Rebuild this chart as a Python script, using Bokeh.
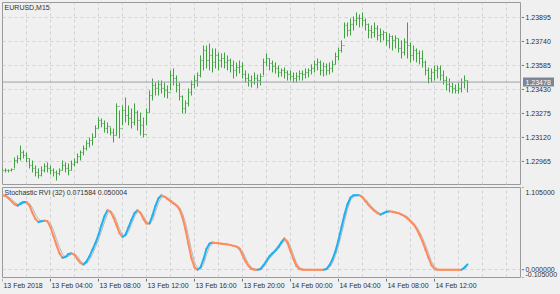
from bokeh.plotting import figure
from bokeh.layouts import column, row
from bokeh.models import FixedTicker, Span, Label, Range1d, ColumnDataSource
from bokeh.core.properties import value
from bokeh.embed import file_html
from bokeh.resources import INLINE

symbol_title = "EURUSD,M15"
ind_title = "Stochastic RVI (32) 0.071584 0.050004"
current_price = 1.23478
first_open = 1.22913

high = [1.22920,1.22920,1.22913,1.22920,1.22991,1.23004,1.23068,1.23036,1.23023,1.22984,
1.22971,1.22939,1.22920,1.22933,1.22952,1.22959,1.22939,1.22920,1.22907,1.22920,
1.22971,1.22959,1.22952,1.22971,1.22984,1.23017,1.23036,1.23068,1.23101,1.23120,
1.23146,1.23198,1.23249,1.23243,1.23230,1.23217,1.23185,1.23178,1.23340,1.23294,
1.23327,1.23378,1.23327,1.23307,1.23340,1.23294,1.23281,1.23249,1.23307,1.23424,
1.23501,1.23475,1.23488,1.23488,1.23475,1.23456,1.23553,1.23566,1.23521,1.23475,
1.23391,1.23359,1.23437,1.23488,1.23521,1.23540,1.23650,1.23714,1.23714,1.23727,
1.23695,1.23695,1.23669,1.23663,1.23669,1.23650,1.23630,1.23617,1.23605,1.23617,
1.23605,1.23553,1.23533,1.23521,1.23540,1.23527,1.23533,1.23630,1.23663,1.23630,
1.23617,1.23605,1.23585,1.23566,1.23572,1.23553,1.23553,1.23540,1.23540,1.23553,
1.23553,1.23566,1.23566,1.23592,1.23617,1.23630,1.23617,1.23605,1.23598,1.23605,
1.23617,1.23669,1.23701,1.23747,1.23863,1.23863,1.23889,1.23902,1.23928,1.23915,
1.23928,1.23889,1.23856,1.23844,1.23863,1.23844,1.23824,1.23811,1.23798,1.23792,
1.23779,1.23779,1.23760,1.23747,1.23760,1.23863,1.23734,1.23714,1.23695,1.23682,
1.23682,1.23617,1.23572,1.23566,1.23585,1.23585,1.23585,1.23553,1.23514,1.23501,
1.23475,1.23462,1.23475,1.23501,1.23521,1.23488]

low = [1.22900,1.22894,1.22894,1.22900,1.22920,1.22952,1.22971,1.22984,1.22959,1.22920,
1.22894,1.22868,1.22855,1.22868,1.22894,1.22894,1.22881,1.22868,1.22842,1.22875,
1.22907,1.22894,1.22875,1.22907,1.22933,1.22952,1.22971,1.23004,1.23036,1.23055,
1.23068,1.23120,1.23178,1.23185,1.23152,1.23146,1.23133,1.23088,1.23133,1.23114,
1.23198,1.23217,1.23198,1.23178,1.23198,1.23165,1.23133,1.23120,1.23198,1.23281,
1.23359,1.23391,1.23391,1.23404,1.23378,1.23372,1.23424,1.23456,1.23411,1.23359,
1.23275,1.23275,1.23320,1.23391,1.23437,1.23449,1.23508,1.23553,1.23566,1.23553,
1.23540,1.23566,1.23553,1.23572,1.23566,1.23553,1.23540,1.23501,1.23514,1.23533,
1.23501,1.23475,1.23449,1.23443,1.23462,1.23437,1.23456,1.23521,1.23579,1.23553,
1.23540,1.23533,1.23508,1.23514,1.23501,1.23488,1.23488,1.23475,1.23475,1.23488,
1.23488,1.23501,1.23508,1.23527,1.23540,1.23553,1.23521,1.23514,1.23521,1.23527,
1.23540,1.23592,1.23617,1.23669,1.23760,1.23772,1.23779,1.23811,1.23844,1.23831,
1.23837,1.23811,1.23760,1.23760,1.23766,1.23747,1.23734,1.23747,1.23714,1.23695,
1.23682,1.23695,1.23669,1.23630,1.23650,1.23630,1.23605,1.23617,1.23605,1.23592,
1.23572,1.23521,1.23469,1.23475,1.23488,1.23501,1.23488,1.23462,1.23424,1.23411,
1.23404,1.23404,1.23404,1.23411,1.23437,1.23411]

close = [1.22907,1.22907,1.22907,1.22913,1.22971,1.22984,1.23023,1.23004,1.22984,1.22939,
1.22920,1.22894,1.22875,1.22907,1.22933,1.22920,1.22907,1.22894,1.22887,1.22907,
1.22939,1.22920,1.22907,1.22946,1.22959,1.22997,1.23023,1.23049,1.23081,1.23101,
1.23120,1.23178,1.23230,1.23210,1.23178,1.23191,1.23152,1.23133,1.23320,1.23178,
1.23294,1.23262,1.23243,1.23217,1.23281,1.23230,1.23198,1.23139,1.23281,1.23391,
1.23456,1.23437,1.23462,1.23437,1.23424,1.23411,1.23521,1.23501,1.23456,1.23385,
1.23307,1.23340,1.23411,1.23462,1.23488,1.23521,1.23617,1.23682,1.23617,1.23650,
1.23605,1.23650,1.23617,1.23630,1.23605,1.23617,1.23585,1.23553,1.23572,1.23579,
1.23527,1.23501,1.23488,1.23475,1.23501,1.23488,1.23514,1.23605,1.23630,1.23598,
1.23579,1.23566,1.23540,1.23553,1.23540,1.23527,1.23514,1.23501,1.23514,1.23533,
1.23527,1.23540,1.23553,1.23566,1.23592,1.23605,1.23553,1.23579,1.23553,1.23566,
1.23592,1.23643,1.23682,1.23714,1.23844,1.23811,1.23850,1.23876,1.23889,1.23889,
1.23876,1.23850,1.23811,1.23798,1.23824,1.23779,1.23785,1.23798,1.23747,1.23772,
1.23747,1.23760,1.23695,1.23669,1.23734,1.23714,1.23650,1.23682,1.23663,1.23630,
1.23605,1.23553,1.23501,1.23540,1.23553,1.23566,1.23521,1.23488,1.23462,1.23449,
1.23437,1.23424,1.23437,1.23475,1.23488,1.23478]

srvi_main = [1.00,0.99,0.96,0.92,0.88,0.86,0.89,0.91,0.91,0.86,
0.76,0.68,0.64,0.65,0.66,0.65,0.57,0.45,0.33,0.22,
0.16,0.17,0.21,0.22,0.20,0.14,0.09,0.07,0.11,0.18,
0.27,0.36,0.47,0.60,0.72,0.80,0.78,0.70,0.60,0.49,
0.44,0.47,0.57,0.67,0.76,0.80,0.76,0.68,0.62,0.62,
0.73,0.86,0.96,1.00,0.98,0.95,0.92,0.89,0.86,0.81,
0.70,0.54,0.34,0.15,0.03,0.00,0.03,0.14,0.28,0.35,
0.365,0.36,0.355,0.35,0.345,0.34,0.33,0.32,0.31,0.28,
0.20,0.11,0.05,0.01,0.00,0.00,0.01,0.06,0.12,0.18,
0.22,0.26,0.31,0.37,0.42,0.36,0.25,0.14,0.05,0.01,
0.00,0.00,0.00,0.00,0.00,0.00,0.00,0.00,0.01,0.06,
0.14,0.25,0.40,0.57,0.74,0.88,0.97,1.00,1.00,1.00,
0.97,0.92,0.87,0.83,0.79,0.76,0.74,0.76,0.78,0.785,
0.78,0.77,0.76,0.74,0.72,0.69,0.65,0.61,0.55,0.47,
0.38,0.27,0.16,0.06,0.01,0.00,0.00,0.00,0.00,0.00,
0.00,0.00,0.00,0.00,0.03,0.071584]

srvi_signal = [1.00,1.00,0.98,0.95,0.91,0.88,0.87,0.89,0.90,0.89,
0.83,0.74,0.68,0.65,0.65,0.65,0.62,0.53,0.41,0.30,
0.21,0.17,0.18,0.21,0.21,0.18,0.12,0.08,0.08,0.13,
0.21,0.30,0.40,0.52,0.64,0.75,0.79,0.75,0.66,0.55,
0.47,0.45,0.51,0.61,0.71,0.78,0.78,0.72,0.65,0.62,
0.66,0.78,0.90,0.97,0.99,0.97,0.94,0.91,0.88,0.84,
0.76,0.63,0.45,0.26,0.10,0.02,0.01,0.07,0.20,0.31,
0.35,0.36,0.36,0.35,0.35,0.34,0.335,0.325,0.315,0.30,
0.25,0.16,0.08,0.03,0.01,0.00,0.00,0.03,0.09,0.15,
0.20,0.24,0.28,0.34,0.39,0.40,0.31,0.20,0.09,0.03,
0.01,0.00,0.00,0.00,0.00,0.00,0.00,0.00,0.00,0.03,
0.09,0.19,0.32,0.48,0.65,0.81,0.93,0.98,1.00,1.00,
0.99,0.95,0.90,0.85,0.81,0.78,0.75,0.75,0.77,0.78,
0.78,0.775,0.765,0.75,0.73,0.71,0.67,0.63,0.58,0.51,
0.43,0.33,0.22,0.11,0.04,0.01,0.00,0.00,0.00,0.00,
0.00,0.00,0.00,0.00,0.01,0.050004]

price_ticks = [1.22965, 1.23120, 1.23275, 1.23430, 1.23585, 1.23740, 1.23895]
price_min, price_max = 1.22816, 1.23992
time_tick_bars = [0, 16, 32, 48, 64, 80, 96, 112, 128, 144]
time_tick_labels = ["13 Feb 2018", "13 Feb 04:00", "13 Feb 08:00", "13 Feb 12:00",
                    "13 Feb 16:00", "13 Feb 20:00", "14 Feb 00:00", "14 Feb 04:00",
                    "14 Feb 08:00", "14 Feb 12:00"]
ind_min, ind_max = -0.105, 1.105
ind_levels = [ind_max, 0.0, ind_min]
ind_level_labels = ["1.105000", "0.000000", "-0.105000"]

FONT = "Liberation Sans"
FS = "7px"
BG = "#f0f0f0"
BORDER = "#9a9a9a"
GRID = "#d2d2d2"
TXT = "#303030"
TICK = "#707070"
BAR = "#3fa33f"
UP = "#1eb0f2"
DN = "#ff8a5b"
BOX = "#7b8796"

n = len(close)
idx = list(range(n))
opens = [first_open] + close[:-1]
x_start = 0.0
x_end = x_start + 518 / 3.0
grid_bars = list(range(0, 176, 8))


def blank(fig):
    fig.background_fill_color = BG
    fig.border_fill_color = BG
    fig.outline_line_color = None


# ---------------- price window ----------------
src = ColumnDataSource(dict(
    x=idx, xl=[i - 0.34 for i in idx], xr=[i + 0.34 for i in idx],
    high=high, low=low, open=opens, close=close))

p1 = figure(frame_width=518, frame_height=182, output_backend="svg", toolbar_location=None,
            x_range=Range1d(x_start, x_end), y_range=Range1d(price_min, price_max),
            min_border_left=2, min_border_right=1, min_border_top=2, min_border_bottom=2)
p1.background_fill_color = BG
p1.border_fill_color = BG
p1.outline_line_color = BORDER
p1.xaxis.visible = False
p1.yaxis.visible = False
p1.xgrid.ticker = FixedTicker(ticks=grid_bars)
p1.ygrid.ticker = FixedTicker(ticks=price_ticks)
for g in (p1.xgrid, p1.ygrid):
    g.grid_line_color = GRID
    g.grid_line_dash = "3 3"

p1.segment(x0="x", y0="low", x1="x", y1="high", source=src, line_color=BAR, line_width=1)
p1.segment(x0="xl", y0="open", x1="x", y1="open", source=src, line_color=BAR, line_width=1)
p1.segment(x0="x", y0="close", x1="xr", y1="close", source=src, line_color=BAR, line_width=1)
p1.add_layout(Span(location=current_price, dimension="width", line_color="#9aa2ac", line_width=1))
p1.add_layout(Label(x=x_start + 0.7, y=price_max, y_offset=-1, text=symbol_title,
                    text_font=FONT, text_font_size=FS, text_color=TXT,
                    text_baseline="top", text_align="left"))

# price scale strip (right of the price window)
p1r = figure(frame_width=39, frame_height=182, output_backend="svg", toolbar_location=None,
             x_range=Range1d(0, 39), y_range=p1.y_range, x_axis_type=None, y_axis_type=None,
             min_border_left=0, min_border_right=0, min_border_top=2, min_border_bottom=2)
blank(p1r)
p1r.segment(x0=0, y0=price_ticks, x1=2.5, y1=price_ticks, line_color=TICK, line_width=1)
p1r.text(x=4, y=price_ticks, text=["%.5f" % v for v in price_ticks],
         text_font=value(FONT), text_font_size=value(FS), text_color=TXT,
         text_baseline="middle", text_align="left")
p1r.rect(x=17, y=current_price, width=31, height=9, height_units="screen",
         fill_color=BOX, line_color=None)
p1r.text(x=4, y=[current_price], text=["%.5f" % current_price],
         text_font=value(FONT), text_font_size=value(FS), text_color="white",
         text_baseline="middle", text_align="left")

# ---------------- indicator window ----------------
x0s, x1s, y0s, y1s, cols = [], [], [], [], []
prev_col = UP
for i in range(n - 1):
    a, b = srvi_main[i], srvi_main[i + 1]
    c = UP if b > a else (DN if b < a else prev_col)
    prev_col = c
    x0s.append(i); x1s.append(i + 1); y0s.append(a); y1s.append(b); cols.append(c)

p2 = figure(frame_width=518, frame_height=90, output_backend="svg", toolbar_location=None,
            x_range=p1.x_range, y_range=Range1d(ind_min, ind_max),
            min_border_left=2, min_border_right=1, min_border_top=1, min_border_bottom=1)
p2.background_fill_color = BG
p2.border_fill_color = BG
p2.outline_line_color = BORDER
p2.xaxis.visible = False
p2.yaxis.visible = False
p2.xgrid.ticker = FixedTicker(ticks=grid_bars)
p2.ygrid.ticker = FixedTicker(ticks=[0.0])
for g in (p2.xgrid, p2.ygrid):
    g.grid_line_color = GRID
    g.grid_line_dash = "3 3"

p2.line(idx, srvi_signal, line_color="#b5b5b5", line_width=1)
p2.segment(x0=x0s, y0=y0s, x1=x1s, y1=y1s, line_color=cols, line_width=2, line_cap="round")
p2.add_layout(Label(x=x_start + 0.7, y=ind_max, y_offset=-1, text=ind_title,
                    text_font=FONT, text_font_size=FS, text_color=TXT,
                    text_baseline="top", text_align="left"))

p2r = figure(frame_width=39, frame_height=90, output_backend="svg", toolbar_location=None,
             x_range=Range1d(0, 39), y_range=p2.y_range, x_axis_type=None, y_axis_type=None,
             min_border_left=0, min_border_right=0, min_border_top=1, min_border_bottom=1)
blank(p2r)
p2r.segment(x0=0, y0=ind_levels, x1=2.5, y1=ind_levels, line_color=TICK, line_width=1)
p2r.text(x=4, y=ind_levels, text=ind_level_labels, y_offset=[5, 0, -3],
         text_font=value(FONT), text_font_size=value(FS), text_color=TXT,
         text_baseline="middle", text_align="left")

# ---------------- time scale strip ----------------
p3 = figure(frame_width=558, frame_height=16, output_backend="svg", toolbar_location=None,
            x_range=Range1d(x_start, x_start + 558 / 3.0), y_range=Range1d(0, 16),
            x_axis_type=None, y_axis_type=None,
            min_border_left=2, min_border_right=0, min_border_top=0, min_border_bottom=0)
blank(p3)
p3.segment(x0=time_tick_bars, y0=16, x1=time_tick_bars, y1=13, line_color=TICK, line_width=1)
p3.text(x=[b + 0.3 for b in time_tick_bars], y=13, text=time_tick_labels,
        text_font=value(FONT), text_font_size=value(FS), text_color=TXT,
        text_baseline="top", text_align="left")

layout = column(row(p1, p1r, spacing=0), row(p2, p2r, spacing=0), p3, spacing=0)
layout.styles = {"background-color": BG}
open("out.html", "w").write(file_html(layout, INLINE))
